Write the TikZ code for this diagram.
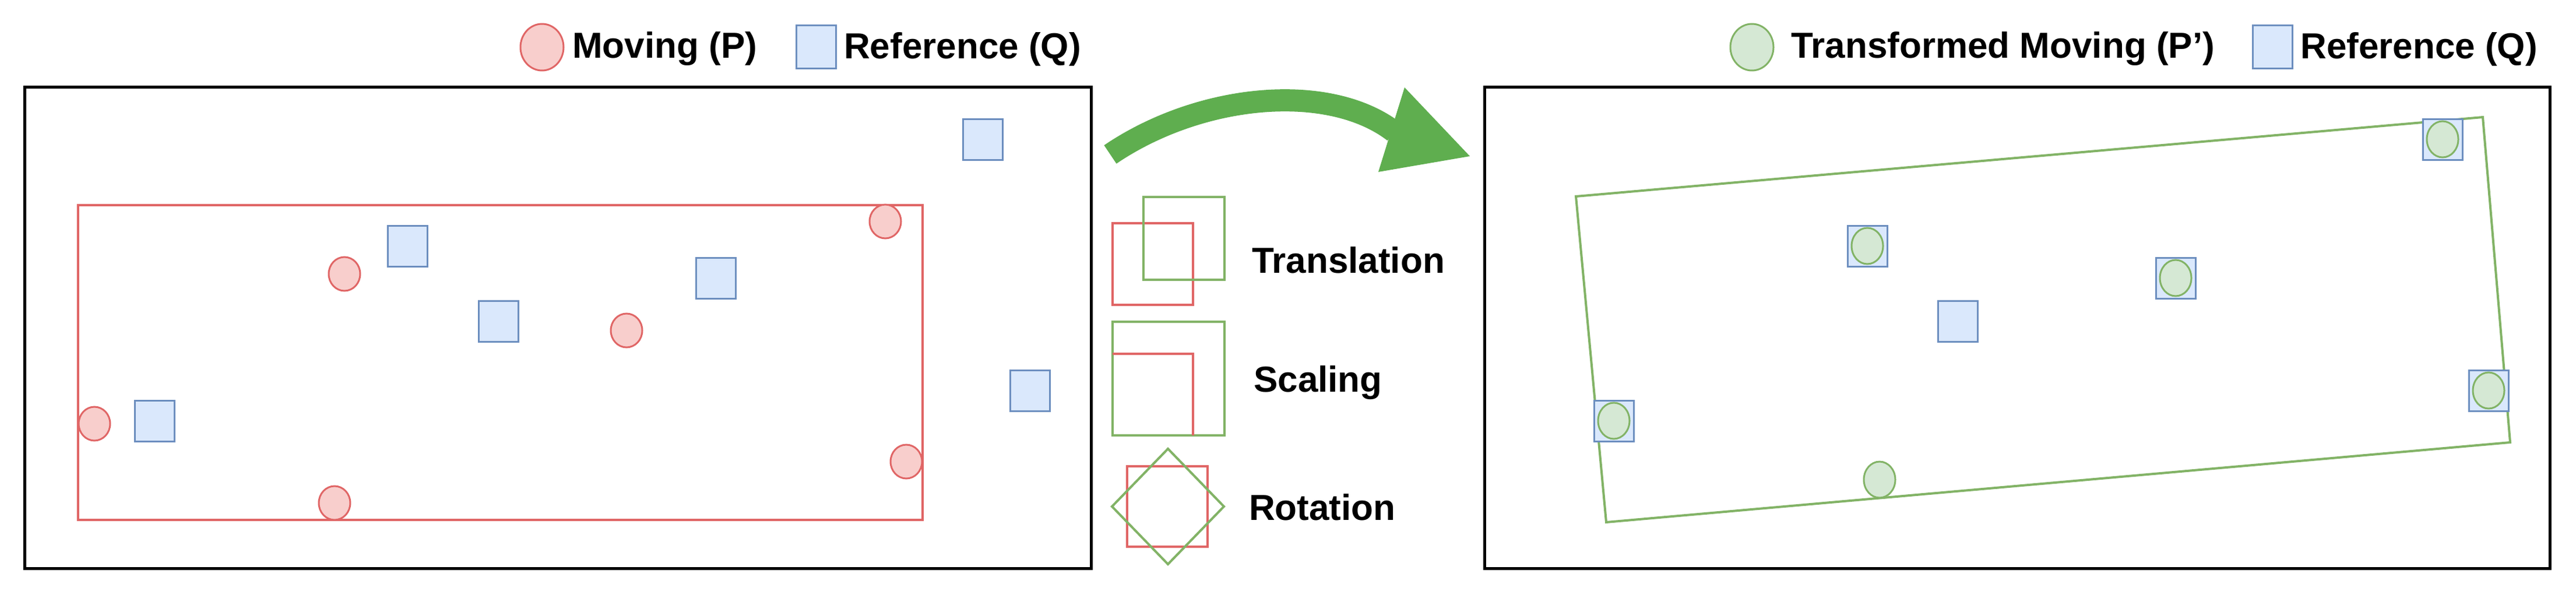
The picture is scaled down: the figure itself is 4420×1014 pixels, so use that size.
\documentclass[tikz,border=0pt]{standalone}
\usepackage{fontspec}
\setmainfont{Liberation Sans}
\usetikzlibrary{shapes.geometric}
\definecolor{rstr}{HTML}{E06666}\definecolor{rfil}{HTML}{F8CECC}
\definecolor{bstr}{HTML}{6C8EBF}\definecolor{bfil}{HTML}{DAE8FC}
\definecolor{gstr}{HTML}{82B366}\definecolor{gfil}{HTML}{D5E8D4}
\definecolor{garr}{HTML}{5FAE4F}
\begin{document}
\begin{tikzpicture}[x=1pt,y=-1pt,
  pt/.style={ellipse,draw=rstr,fill=rfil,line width=3pt,minimum width=54,minimum height=58,inner sep=0},
  gp/.style={ellipse,draw=gstr,fill=gfil,line width=3pt,minimum width=54,minimum height=62,inner sep=0},
  sq/.style={rectangle,draw=bstr,fill=bfil,line width=3pt,minimum width=68,minimum height=70,inner sep=0},
  lbl/.style={font=\fontsize{62}{70}\selectfont\bfseries,anchor=west,inner sep=0},
  frame/.style={draw=black,line width=5pt},
  rl/.style={draw=rstr,line width=4pt},
  gl/.style={draw=gstr,line width=4pt}]
\useasboundingbox (0,0) rectangle (4420,1014);
% legends
\node[pt,minimum width=74,minimum height=80] (l1) at (930,81) {};
\node[lbl] (t1) at (982,84) {Moving (P)};
\node[sq,minimum height=74] (l2) at (1400,81) {};
\node[lbl] (t2) at (1448,84) {Reference (Q)};
\node[gp,minimum width=74,minimum height=80] (l3) at (3006,81) {};
\node[lbl] (t3) at (3073,84) {Transformed Moving (P\symbol{39})};
\node[sq,minimum height=74] (l4) at (3899,81) {};
\node[lbl] (t4) at (3947,84) {Reference (Q)};
% left panel
\draw[frame] (42,150) rectangle (1872,975);
\draw[rl] (134,352) rectangle (1583,892);
\foreach \n/\x/\y in {a/1686/239,b/699/422,c/855/551,d/1228/477,e/265/722,f/1767/670}
  \node[sq] (q\n) at (\x,\y) {};
\foreach \n/\x/\y in {a/591/470,b/1075/567,c/1519/380,d/162/727,e/1555/792,f/574/863}
  \node[pt] (p\n) at (\x,\y) {};
% arrow
\coordinate (as) at (1905,265);
\coordinate (ae) at (2392,226);
\draw[garr,line width=38pt] (as) .. controls (2060,160) and (2280,140) .. (ae);
\fill[garr] (2410,150) -- (2522,268) -- (2365,295) -- cycle;
% middle legend
\draw[rl] (1909,383) rectangle (2047,523);
\draw[gl] (1962,338) rectangle (2101,480);
\node[lbl] (tt) at (2148,446) {Translation};
\draw[gl] (1909,552) rectangle (2101,747);
\draw[rl] (1909,607) -- (2047,607) -- (2047,747);
\node[lbl] (ts) at (2151,657) {Scaling};
\draw[rl] (1934,800) rectangle (2072,938);
\draw[gl] (2004,770) -- (2100,869) -- (2004,968) -- (1908,869) -- cycle;
\node[lbl] (tr) at (2143,870) {Rotation};
% right panel
\draw[frame] (2547,150) rectangle (4375,975);
\draw[gl] (2704,337) -- (4260,201) -- (4307,759) -- (2756,896) -- cycle;
\foreach \n/\x/\y in {a/3204/422,b/3733/477,c/2769/722,d/4270/670,e/4191/239}
  {\node[sq] (r\n) at (\x,\y) {};\node[gp] (g\n) at (\x,\y) {};}
\node[sq] (rf) at (3359,551) {};
\node[gp] (gf) at (3225,823) {};
\end{tikzpicture}
\end{document}
